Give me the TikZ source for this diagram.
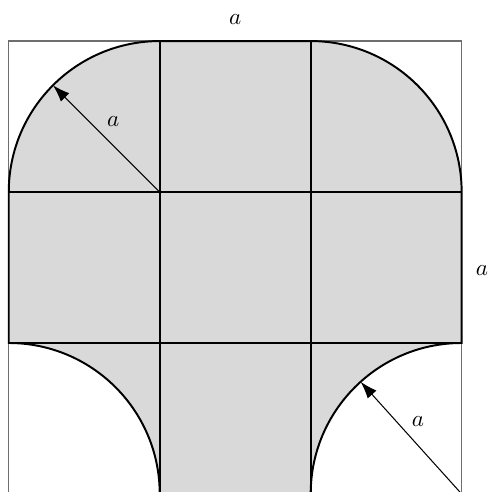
\documentclass[tikz,border=0pt]{standalone}
\usepackage{xcolor}
\usepackage{tikz}
\usetikzlibrary{arrows.meta, positioning, calc}
\definecolor{myfill}{RGB}{217,217,217}
\definecolor{myframe}{RGB}{110,110,110}
\tikzset{
  frame/.style={draw=myframe, line width=0.5pt},
  shapefill/.style={fill=myfill, draw=black, line width=0.85pt},
  gridline/.style={draw=black, line width=0.85pt},
  radius arrow/.style={-{Latex[length=2.6mm, width=1.8mm]}, line width=0.45pt},
  dimlabel/.style={inner sep=0pt, font=\normalsize},
  radlabel/.style={midway, above=1.5pt, xshift=3pt}
}

\begin{document}
\begin{tikzpicture}[x=2.3cm, y=2.3cm]
  \useasboundingbox (-0.058,0.013) rectangle (3.168,3.272);

  % --- outer square ---
  \draw[frame] (0,0) rectangle (3,3);

  % --- shaded region ---
  \path[shapefill] (0,1) -- (0,2) arc[start angle=180, end angle=90, radius=1]
    -- (2,3) arc[start angle=90, end angle=0, radius=1]
    -- (3,1) arc[start angle=90, end angle=180, radius=1]
    -- (1,0) arc[start angle=0, end angle=90, radius=1] -- cycle;

  % --- grid ---
  \foreach \k in {1,2} {
    \draw[gridline] (\k,0) -- (\k,3);
    \draw[gridline] (0,\k) -- (3,\k);
  }

  % --- radii ---
  \coordinate (ctop) at (1,2);
  \coordinate (ptop) at ($(ctop)+(135:1)$);
  \coordinate (cbot) at (3,0);
  \coordinate (pbot) at ($(cbot)+(132:1)$);
  \draw[radius arrow] (ctop) -- (ptop) node[radlabel] {$a$};
  \draw[radius arrow] (cbot) -- (pbot) node[radlabel] {$a$};

  % --- side labels ---
  \node[dimlabel] (atop) at (1.5,3.14) {$a$};
  \node[dimlabel] (aright) at (3.134,1.483) {$a$};
\end{tikzpicture}
\end{document}
